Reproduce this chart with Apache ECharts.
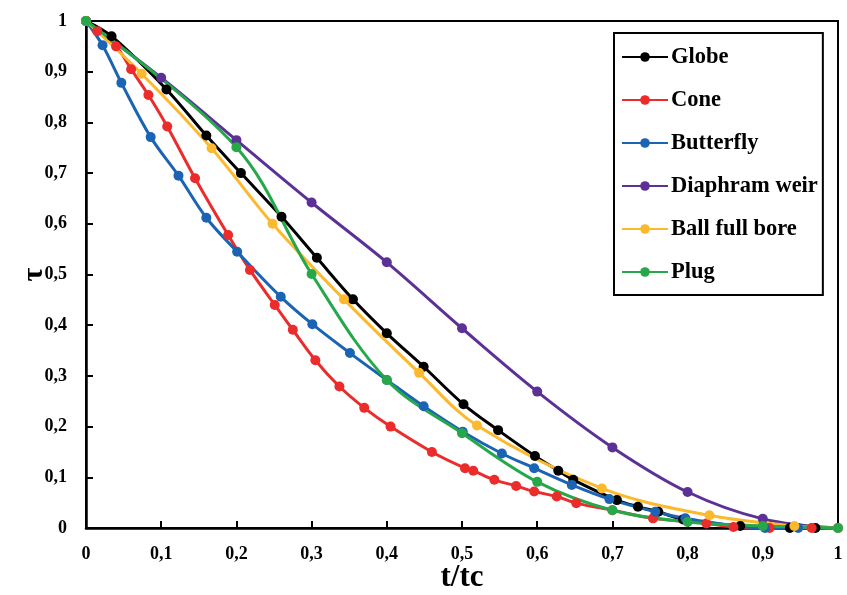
<!DOCTYPE html>
<html>
<head>
<meta charset="utf-8">
<script src="https://cdn.jsdelivr.net/npm/echarts@6/dist/echarts.min.js"></script>
<style>
html,body{margin:0;padding:0;background:#fff;}
#chart{width:847px;height:595px;}
</style>
</head>
<body>
<div id="chart"></div>
<script>
const seriesNames = ['Globe', 'Cone', 'Butterfly', 'Diaphram weir', 'Ball full bore', 'Plug'];
const xTicks = [0, 0.1, 0.2, 0.3, 0.4, 0.5, 0.6, 0.7, 0.8, 0.9, 1];

const globe = [[0,1],[0.034,0.970],[0.107,0.865],[0.160,0.774],[0.206,0.700],[0.260,0.614],[0.307,0.533],[0.355,0.451],[0.400,0.384],[0.449,0.318],[0.502,0.244],[0.548,0.193],[0.597,0.142],[0.628,0.113],[0.648,0.095],[0.706,0.055],[0.734,0.042],[0.761,0.032],[0.794,0.017],[0.870,0.004],[0.936,0],[0.970,0]];
const cone = [[0,1],[0.015,0.980],[0.040,0.950],[0.060,0.905],[0.083,0.854],[0.108,0.792],[0.145,0.690],[0.189,0.578],[0.218,0.509],[0.251,0.440],[0.275,0.391],[0.305,0.331],[0.337,0.279],[0.370,0.237],[0.405,0.200],[0.460,0.150],[0.504,0.118],[0.515,0.113],[0.543,0.095],[0.572,0.083],[0.596,0.072],[0.626,0.062],[0.652,0.049],[0.700,0.035],[0.754,0.019],[0.825,0.009],[0.861,0.002],[0.909,0],[0.965,0]];
const butterfly = [[0,1],[0.022,0.952],[0.047,0.878],[0.086,0.771],[0.123,0.695],[0.160,0.612],[0.201,0.545],[0.259,0.456],[0.301,0.402],[0.351,0.345],[0.400,0.292],[0.449,0.240],[0.501,0.190],[0.553,0.147],[0.596,0.118],[0.646,0.085],[0.696,0.057],[0.757,0.032],[0.797,0.019],[0.903,0],[0.947,0]];
const diaphram = [[0,1],[0.1,0.888],[0.2,0.765],[0.3,0.642],[0.4,0.524],[0.5,0.394],[0.6,0.269],[0.7,0.159],[0.8,0.071],[0.9,0.018],[1,0]];
const ballFullBore = [[0,1],[0.074,0.896],[0.167,0.749],[0.248,0.600],[0.343,0.451],[0.443,0.306],[0.520,0.202],[0.686,0.078],[0.829,0.025],[0.942,0.004],[1,0]];
const plug = [[0,1],[0.2,0.751],[0.3,0.501],[0.4,0.292],[0.5,0.187],[0.6,0.091],[0.7,0.035],[0.8,0.012],[0.9,0.004],[1,0]];

const dataSets = [globe, cone, butterfly, diaphram, ballFullBore, plug];
const colors = ['#000000', '#EC2B2B', '#1B64B4', '#5C3196', '#FDB92E', '#26A84A'];

const fmt = v => String(+(+v).toFixed(1)).replace('.', ',');
const fontFam = '"Liberation Serif", "Times New Roman", serif';

const chart = echarts.init(document.getElementById('chart'), null, {renderer: 'canvas'});
chart.setOption({
  animation: false,
  backgroundColor: '#fff',
  grid: {left: 86, right: 9, top: 21, bottom: 67, outerBoundsMode: 'none', containLabel: false, show: true, borderColor: '#000', borderWidth: 2, backgroundColor: 'transparent'},
  legend: {
    orient: 'vertical',
    left: 614, top: 33,
    padding: [12, 5, 11, 7],
    itemGap: 19,
    itemWidth: 46, itemHeight: 12,
    borderColor: '#000', borderWidth: 2,
    backgroundColor: '#fff',
    data: seriesNames,
    textStyle: {fontFamily: fontFam, fontWeight: 'bold', fontSize: 22.5, color: '#000', lineHeight: 24, padding: [0,0,0,-2]}
  },
  xAxis: {
    type: 'value', min: 0, max: 1, interval: 0.1,
    name: 't/tc', nameLocation: 'middle', nameGap: 34, nameMoveOverlap: false,
    nameTextStyle: {fontFamily: fontFam, fontWeight: 'bold', fontSize: 31, color: '#000'},
    axisLine: {show: true, onZero: false, lineStyle: {color: '#000', width: 2.5}},
    axisTick: {show: true, inside: true, length: 7, lineStyle: {color: '#000', width: 2}},
    axisLabel: {formatter: fmt, margin: 17, fontFamily: fontFam, fontWeight: 'bold', fontSize: 18, color: '#000'},
    splitLine: {show: false}
  },
  yAxis: {
    type: 'value', min: 0, max: 1, interval: 0.1,
    name: 'τ', nameLocation: 'middle', nameGap: 37, nameRotate: 90, nameMoveOverlap: false,
    nameTextStyle: {fontFamily: fontFam, fontWeight: 'bold', fontSize: 30, color: '#000'},
    axisLine: {show: true, onZero: false, lineStyle: {color: '#000', width: 2.5}},
    axisTick: {show: true, inside: true, length: 7, lineStyle: {color: '#000', width: 2}},
    axisLabel: {formatter: fmt, margin: 19, fontFamily: fontFam, fontWeight: 'bold', fontSize: 18, color: '#000'},
    splitLine: {show: false}
  },
  series: seriesNames.map((n, i) => ({
    name: n, type: 'line', data: dataSets[i], smooth: 0.35,
    symbol: 'circle', symbolSize: 10,
    lineStyle: {color: colors[i], width: 3},
    itemStyle: {color: colors[i]},
    clip: false
  }))
});
</script>
</body>
</html>
